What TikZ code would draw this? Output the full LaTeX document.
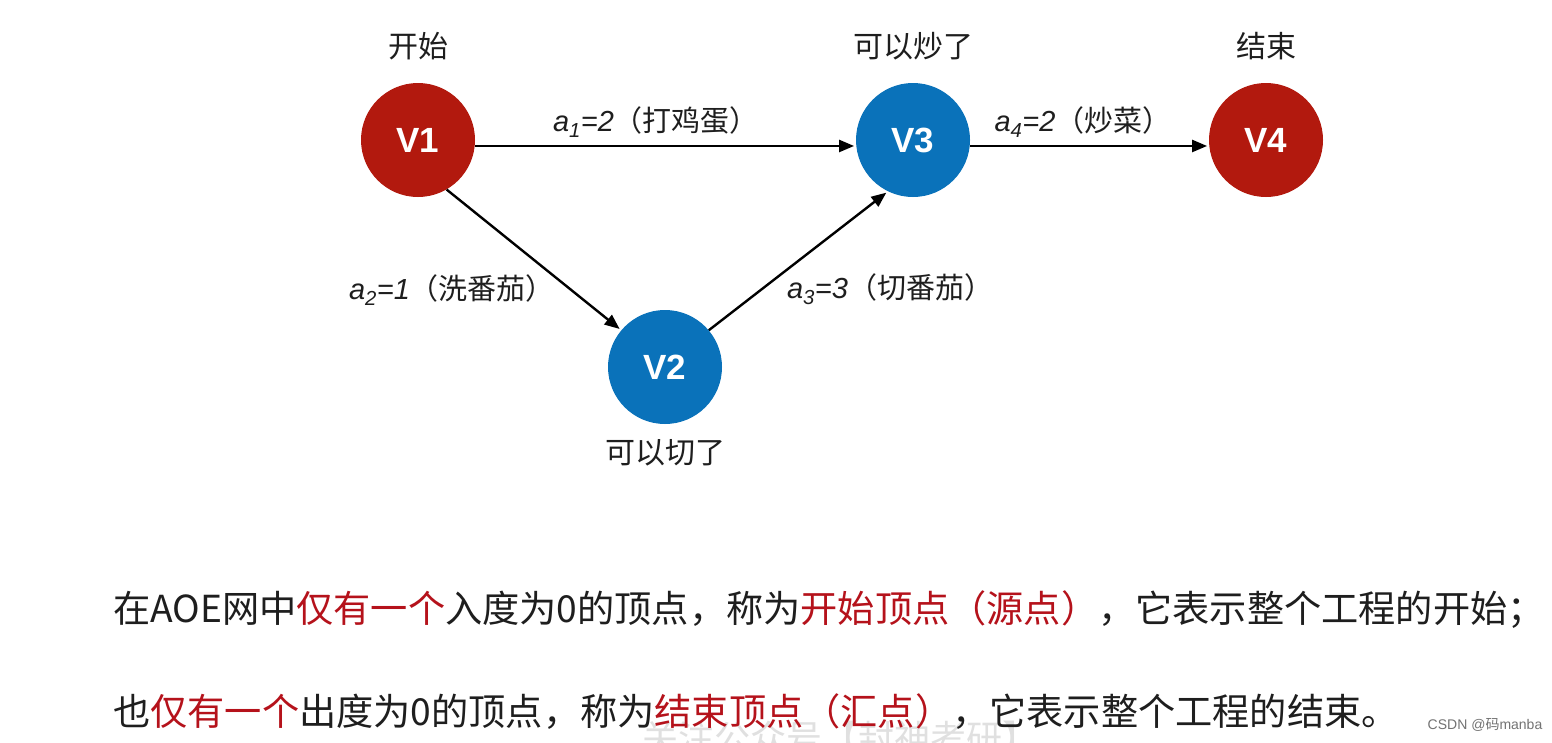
\documentclass[tikz,border=0pt]{standalone}
\usepackage{fontspec}
\setmainfont{Liberation Sans}
\newfontfamily\cjk{Noto Sans CJK SC}
\usetikzlibrary{arrows.meta}
\definecolor{vred}{HTML}{B2190E}
\definecolor{vblue}{HTML}{0A72BA}
\definecolor{tred}{HTML}{B5121B}
\definecolor{ink}{HTML}{1E1E1E}
\begin{document}
\begin{tikzpicture}[x=1pt,y=-1pt,
  vtx/.style={circle, minimum size=114pt, inner sep=0pt, text=white,
              font=\bfseries\fontsize{35}{40}\selectfont},
  vcaption/.style={font=\cjk\fontsize{30}{34}\selectfont, text=ink, inner sep=0pt},
  elab/.style={font=\fontsize{29}{32}\selectfont, text=ink, inner sep=0pt},
  arr/.style={-{Triangle[length=15pt,width=12pt]}, line width=2.4pt, shorten >=2pt},
  body/.style={font=\cjk\fontsize{37.2}{40}\selectfont, text=ink, inner sep=0pt, anchor=west}]
\useasboundingbox[fill=white] (0,0) rectangle (1552,742);

% vertices
\node[vtx, fill=vred]  (V1) at (418,140) {V1};
\node[vtx, fill=vblue] (V3) at (913,140) {V3};
\node[vtx, fill=vred]  (V4) at (1266,140) {V4};
\node[vtx, fill=vblue] (V2) at (665,367) {V2};

% captions
\node[vcaption] (c1) at (418,46)  {开始};
\node[vcaption] (c3) at (913,46)  {可以炒了};
\node[vcaption] (c4) at (1266,46) {结束};
\node[vcaption] (c2) at (665,453) {可以切了};

% arcs
\draw[arr] (V1.-6) -- (V3.-174);
\draw[arr] (V1.-60) -- (V2.140);
\draw[arr] (V2.40) -- (V3.-116);
\draw[arr] (V3.-6) -- (V4.-174);

% arc labels
\node[elab] (l13) at (656,122) {\itshape a\textsubscript{1}=2{\upshape\cjk（打鸡蛋）}};
\node[elab] (l34) at (1083,122) {\itshape a\textsubscript{4}=2{\upshape\cjk（炒菜）}};
\node[elab] (l12) at (452,290) {\itshape a\textsubscript{2}=1{\upshape\cjk（洗番茄）}};
\node[elab] (l23) at (890,289) {\itshape a\textsubscript{3}=3{\upshape\cjk（切番茄）}};

% watermark (faint, cut by the lower edge)
\node[font=\cjk\fontsize{36}{40}\selectfont, text=black!12] (wm) at (840,738) {关注公众号【封神考研】};

% body text
\node[body] (t1) at (113,610) {在AOE网中\textcolor{tred}{仅有一个}入度为0的顶点，称为\textcolor{tred}{开始顶点（源点）}，它表示整个工程的开始；};
\node[body] (t2) at (113,712) {也\textcolor{tred}{仅有一个}出度为0的顶点，称为\textcolor{tred}{结束顶点（汇点）}，它表示整个工程的结束。};

\node[font=\fontsize{14}{16}\selectfont, text=black!55, inner sep=0pt] (csdn) at (1485,725) {CSDN @{\cjk 码}manba};
\end{tikzpicture}
\end{document}
